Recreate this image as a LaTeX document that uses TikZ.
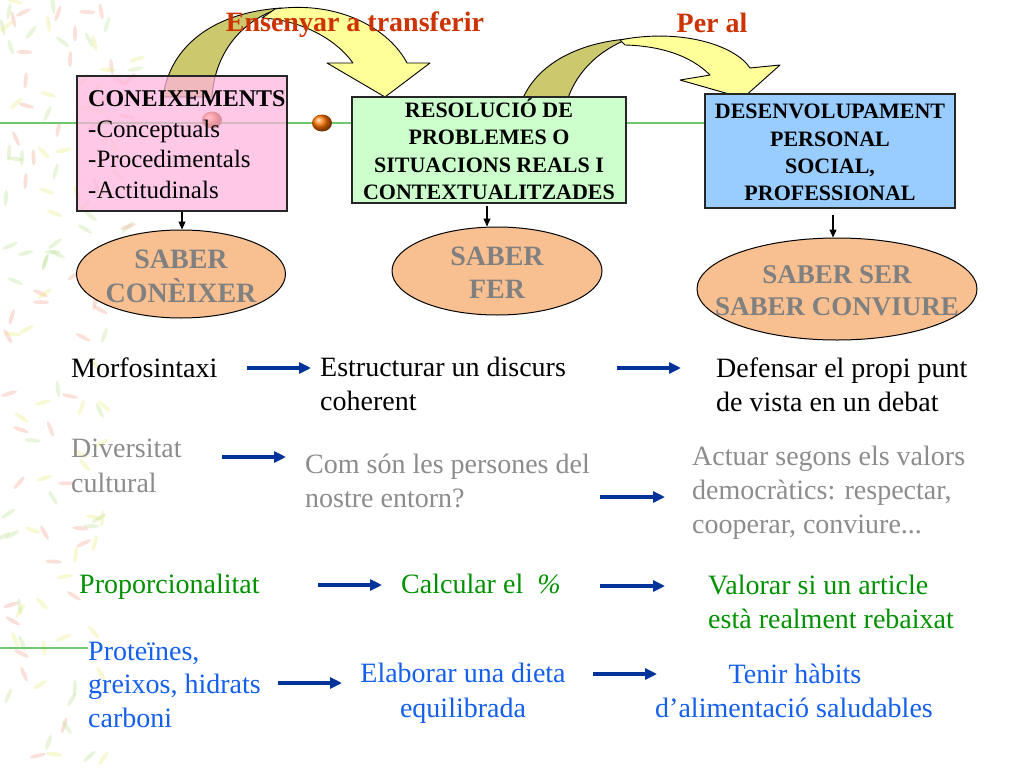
\documentclass[tikz,border=0pt]{standalone}
\usepackage{fontspec}
\setmainfont{Liberation Serif}
\usetikzlibrary{arrows.meta,shapes.geometric}
\definecolor{pinkbox}{RGB}{255,180,222}
\definecolor{greenbox}{RGB}{204,255,204}
\definecolor{bluebox}{RGB}{153,204,255}
\definecolor{peach}{RGB}{248,192,145}
\definecolor{sabergray}{RGB}{128,128,128}
\definecolor{titlered}{RGB}{204,51,0}
\definecolor{arrowblue}{RGB}{0,51,153}
\definecolor{graytext}{RGB}{140,140,140}
\definecolor{greentext}{RGB}{0,145,0}
\definecolor{bluetext}{RGB}{20,95,235}
\definecolor{ribbonfront}{RGB}{255,255,153}
\definecolor{ribbonback}{RGB}{204,200,110}
\definecolor{guide}{RGB}{110,200,110}
\definecolor{leaf0}{RGB}{245,160,140}
\definecolor{leaf1}{RGB}{185,225,140}
\definecolor{leaf2}{RGB}{235,235,120}
\begin{document}
\begin{tikzpicture}[x=1pt,y=-1pt,
  body/.style={font=\fontsize{28}{34}\selectfont, inner sep=0pt, anchor=base west},
  bodyc/.style={font=\fontsize{28}{34}\selectfont, inner sep=0pt, anchor=base},
  pinktxt/.style={font=\fontsize{25}{30}\selectfont, inner sep=0pt, anchor=base west},
  boxtxt/.style={font=\bfseries\fontsize{22}{27}\selectfont, inner sep=0pt, anchor=base},
  saber/.style={font=\bfseries\fontsize{28}{34}\selectfont, text=sabergray, inner sep=0pt, anchor=base},
  titletxt/.style={font=\bfseries\fontsize{28}{34}\selectfont, text=titlered, inner sep=0pt, anchor=base},
  panel/.style={draw=black!85, line width=1.1, inner sep=0pt},
  blob/.style={ellipse, draw=black, line width=1, fill=peach, inner sep=0pt},
  flow/.style={draw=arrowblue, line width=3.6, -{Triangle[length=12,width=11]}},
  down/.style={draw=black, line width=1.1, -{Triangle[length=8,width=7]}},
  ribbon/.style={draw=black, line width=0.9, line join=round}
]
\useasboundingbox (0,0) rectangle (1024,768);
\fill[white] (0,0) rectangle (1024,768);

% background leaves
\pgfmathsetseed{42}
\foreach \i in {1,...,120}{
  \pgfmathsetmacro{\lx}{rnd*105}
  \pgfmathsetmacro{\ly}{rnd*768}
  \pgfmathsetmacro{\la}{rnd*180}
  \pgfmathtruncatemacro{\lc}{mod(\i,3)}
  \fill[leaf\lc, opacity=.32, rotate around={\la:(\lx,\ly)}] (\lx,\ly) ellipse [x radius=8, y radius=2];
}
\foreach \i in {1,...,25}{
  \pgfmathsetmacro{\lx}{80+rnd*60}
  \pgfmathsetmacro{\ly}{rnd*240}
  \pgfmathsetmacro{\la}{rnd*180}
  \pgfmathtruncatemacro{\lc}{mod(\i,3)}
  \fill[leaf\lc, opacity=.3, rotate around={\la:(\lx,\ly)}] (\lx,\ly) ellipse [x radius=8, y radius=2];
}

% guide lines and dots
\draw[guide, line width=1.2] (0,123) -- (705,123);
\draw[guide, line width=1.2] (0,648) -- (88,648);
\shade[ball color=orange!90!red] (212,120) ellipse [x radius=10, y radius=8.5];
\shade[ball color=orange!90!red] (322,123) ellipse [x radius=10, y radius=8.5];

% curved arrow 1
\path[ribbon, fill=ribbonback] (163,97) .. controls (170,45) and (215,12) .. (282,8)
  .. controls (245,18) and (215,50) .. (212,97) -- cycle;
\path[ribbon, fill=ribbonfront] (275,9) .. controls (340,0) and (390,30) .. (407,63)
  -- (430,63) -- (385,97) -- (327,63) -- (353,63)
  .. controls (335,38) and (300,20) .. (262,18) -- cycle;
% curved arrow 2
\path[ribbon, fill=ribbonback] (523,98) .. controls (540,60) and (585,42) .. (628,39)
  .. controls (600,50) and (578,70) .. (568,98) -- cycle;
\path[ribbon, fill=ribbonfront] (620,40) .. controls (680,28) and (735,45) .. (750,68)
  -- (780,65) -- (743,98) -- (680,80) -- (710,75)
  .. controls (690,55) and (660,46) .. (625,45) -- cycle;

% titles
\node[titletxt] (t1) at (355,32) {Ensenyar a transferir};
\node[titletxt] (t2) at (712,33) {Per al};

% boxes
\node[panel, fill=pinkbox, fill opacity=.72, text opacity=1, minimum width=210, minimum height=135] (kbox) at (182,143.5) {};
\node[panel, fill=greenbox, minimum width=274, minimum height=106] (rbox) at (489,150) {};
\node[panel, fill=bluebox, minimum width=250, minimum height=114] (dbox) at (830,151) {};

\node[pinktxt, font=\bfseries\fontsize{24}{30}\selectfont] (k1) at (88,106) {CONEIXEMENTS};
\node[pinktxt] (k2) at (88,137) {-Conceptuals};
\node[pinktxt] (k3) at (88,167) {-Procedimentals};
\node[pinktxt] (k4) at (88,198) {-Actitudinals};

\node[boxtxt] (r1) at (489,117) {RESOLUCIÓ DE};
\node[boxtxt] (r2) at (489,144) {PROBLEMES O};
\node[boxtxt] (r3) at (489,172) {SITUACIONS REALS I};
\node[boxtxt] (r4) at (489,199) {CONTEXTUALITZADES};

\node[boxtxt] (d1) at (830,118) {DESENVOLUPAMENT};
\node[boxtxt] (d2) at (830,146) {PERSONAL};
\node[boxtxt] (d3) at (830,173) {SOCIAL,};
\node[boxtxt] (d4) at (830,200) {PROFESSIONAL};

% ellipses
\node[blob, minimum width=209, minimum height=88] (kell) at (181,274) {};
\node[blob, minimum width=210, minimum height=88] (rell) at (497,271) {};
\node[blob, minimum width=280, minimum height=102] (dell) at (837,289) {};

\node[saber] (s1) at (181,268) {SABER};
\node[saber] (s2) at (181,302) {CONÈIXER};
\node[saber] (s3) at (497,265) {SABER};
\node[saber] (s4) at (497,298) {FER};
\node[saber, font=\bfseries\fontsize{27}{33}\selectfont] (s5) at (837,283) {SABER SER};
\node[saber, font=\bfseries\fontsize{27}{33}\selectfont] (s6) at (837,315) {SABER CONVIURE};

\draw[down] (kbox.south) -- (kbox.south |- kell.north);
\draw[down, shorten <=2] (rbox.south -| 487,0) -- (rell.north -| 487,0);
\draw[down, shorten <=6] (dbox.south -| 833,0) -- (dell.north -| 833,0);

% row 1
\node[body] (m1) at (71,377) {Morfosintaxi};
\node[body] (m2) at (320,376) {Estructurar un discurs};
\node[body] (m3) at (320,410) {coherent};
\node[body] (m4) at (716,377) {Defensar el propi punt};
\node[body] (m5) at (716,411) {de vista en un debat};
\coordinate (a1s) at (247,368); \coordinate (a1e) at (311,368);
\coordinate (a2s) at (617,368); \coordinate (a2e) at (681,368);
\draw[flow] (a1s) -- (a1e);
\draw[flow] (a2s) -- (a2e);

% row 2
\node[body, text=graytext] (g1) at (71,457) {Diversitat};
\node[body, text=graytext] (g2) at (71,492) {cultural};
\node[body, text=graytext] (g3) at (305,473) {Com són les persones del};
\node[body, text=graytext] (g4) at (305,507) {nostre entorn?};
\node[body, text=graytext] (g5) at (692,465) {Actuar segons els valors};
\node[body, text=graytext] (g6) at (692,499) {democràtics: respectar,};
\node[body, text=graytext] (g7) at (692,533) {cooperar, conviure...};
\coordinate (b1s) at (222,457); \coordinate (b1e) at (286,457);
\coordinate (b2s) at (600,497); \coordinate (b2e) at (665,497);
\draw[flow] (b1s) -- (b1e);
\draw[flow] (b2s) -- (b2e);

% row 3
\node[body, text=greentext] (p1) at (79,593) {Proporcionalitat};
\node[body, text=greentext] (p2) at (401,593) {Calcular el \ \textit{\%}};
\node[body, text=greentext] (p3) at (708,594) {Valorar si un article};
\node[body, text=greentext] (p4) at (708,628) {està realment rebaixat};
\coordinate (c1s) at (318,585); \coordinate (c1e) at (382,585);
\coordinate (c2s) at (600,586); \coordinate (c2e) at (665,586);
\draw[flow] (c1s) -- (c1e);
\draw[flow] (c2s) -- (c2e);

% row 4
\node[body, text=bluetext] (q1) at (88,660) {Proteïnes,};
\node[body, text=bluetext] (q2) at (88,693) {greixos, hidrats};
\node[body, text=bluetext] (q3) at (88,727) {carboni};
\node[bodyc, text=bluetext] (q4) at (463,682) {Elaborar una dieta};
\node[bodyc, text=bluetext] (q5) at (463,717) {equilibrada};
\node[bodyc, text=bluetext] (q6) at (795,683) {Tenir hàbits};
\node[bodyc, text=bluetext] (q7) at (794,717) {d’alimentació saludables};
\coordinate (e1s) at (278,683); \coordinate (e1e) at (342,683);
\coordinate (e2s) at (593,674); \coordinate (e2e) at (657,674);
\draw[flow] (e1s) -- (e1e);
\draw[flow] (e2s) -- (e2e);
\end{tikzpicture}
\end{document}
